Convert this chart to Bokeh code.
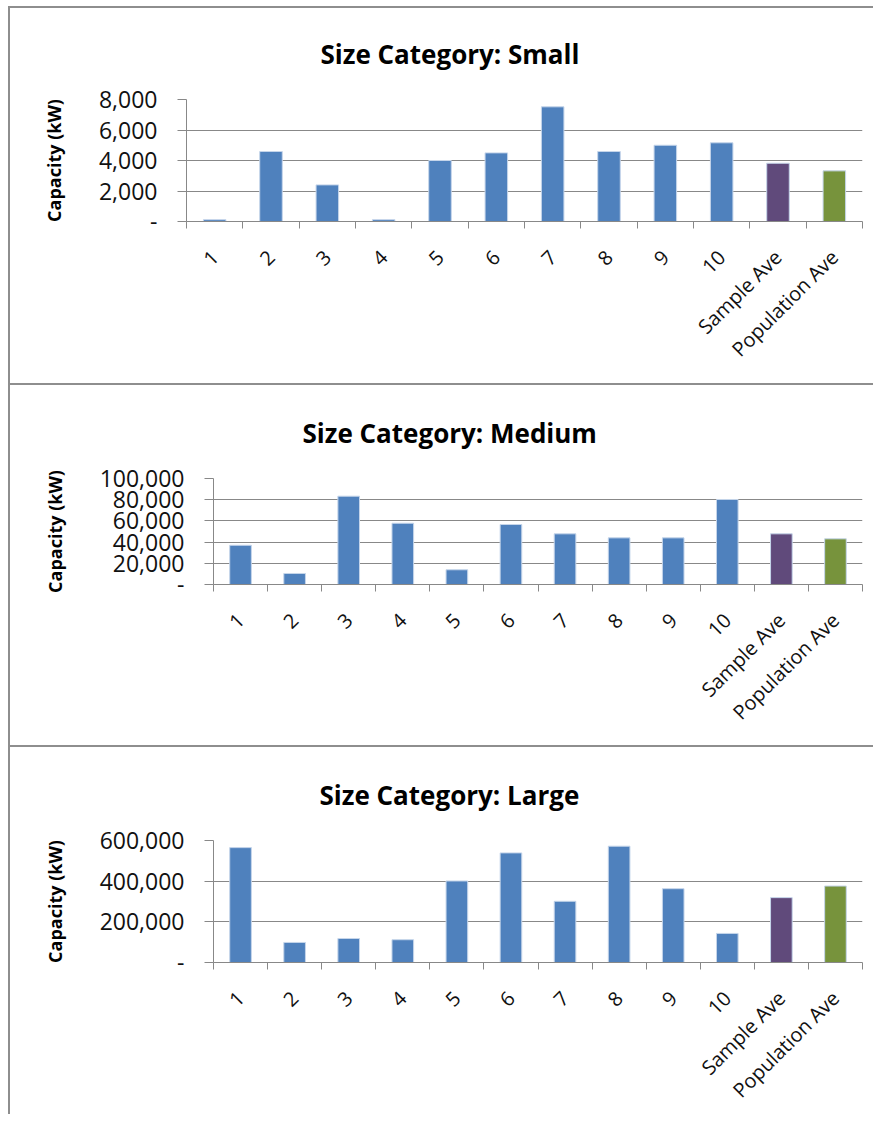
import math
from bokeh.plotting import figure
from bokeh.models import FixedTicker, NumeralTickFormatter, Range1d, ColumnDataSource
from bokeh.layouts import column, row
from bokeh.embed import file_html
from bokeh.resources import INLINE

categories = ["1", "2", "3", "4", "5", "6", "7", "8", "9", "10", "Sample Ave", "Population Ave"]
small_values = [120, 4590, 2400, 120, 4000, 4500, 7520, 4590, 5000, 5160, 3820, 3320]
medium_values = [37000, 10400, 83300, 57800, 13900, 56600, 47800, 44000, 44000, 80200, 47800, 43100]
large_values = [565000, 98600, 118000, 112000, 401000, 539000, 301000, 572000, 363000, 143000, 319000, 376000]
bar_colors = ["#4F81BD"] * 10 + ["#604A7B", "#77933C"]
titles = ["Size Category: Small", "Size Category: Medium", "Size Category: Large"]
small_ticks = [0, 2000, 4000, 6000, 8000]
medium_ticks = [0, 20000, 40000, 60000, 80000, 100000]
large_ticks = [0, 200000, 400000, 600000]
y_label = "Capacity (kW)"

FONT = "Open Sans"
GRID = "#888888"
BORDER = "#8e8e8e"
TEXT = "#111111"


def make_panel(title, values, ticks, height, b_top, b_bottom, b_left, t_offset, margin_top):
    n = len(categories)
    src = ColumnDataSource(dict(
        x=[i + 0.5 for i in range(n)],
        top=values,
        color=bar_colors,
    ))
    p = figure(width=865, height=height, output_backend="svg", toolbar_location=None,
               x_range=Range1d(0, n), y_range=Range1d(ticks[0], ticks[-1]),
               min_border_top=b_top, min_border_bottom=b_bottom,
               min_border_left=b_left, min_border_right=13,
               styles={"border-top": "2px solid " + BORDER,
                       "border-left": "2px solid " + BORDER,
                       "margin-left": "8px",
                       "margin-top": "%dpx" % margin_top})
    p.vbar(x="x", top="top", bottom=0, width=0.4, fill_color="color",
           line_color="#c5d5ea", line_width=1, source=src)
    p.outline_line_color = None
    p.background_fill_color = "white"
    p.border_fill_color = "white"

    p.title.text = title
    p.title.text_font = FONT
    p.title.text_font_style = "bold"
    p.title.text_font_size = "26px"
    p.title.text_color = "#000000"
    p.title.align = "left"
    p.title.offset = t_offset
    p.title.vertical_align = "top"
    p.title.standoff = 52

    xa = p.xaxis[0]
    xa.ticker = FixedTicker(ticks=[i + 0.5 for i in range(n)], minor_ticks=list(range(n + 1)))
    xa.major_label_overrides = {i + 0.5: c for i, c in enumerate(categories)}
    xa.major_tick_out = 0
    xa.major_tick_in = 0
    xa.minor_tick_out = 7
    xa.minor_tick_in = 0
    xa.minor_tick_line_color = GRID
    xa.axis_line_color = GRID
    xa.major_label_orientation = math.pi / 4
    xa.major_label_standoff = 25
    xa.major_label_text_font = FONT
    xa.major_label_text_font_size = "20px"
    xa.major_label_text_color = TEXT

    ya = p.yaxis[0]
    ya.ticker = FixedTicker(ticks=ticks)
    ya.formatter = NumeralTickFormatter(format="0,0")
    ya.major_label_overrides = {0: "-"}
    ya.major_tick_out = 9
    ya.major_tick_in = 0
    ya.minor_tick_out = 0
    ya.minor_tick_in = 0
    ya.major_tick_line_color = GRID
    ya.axis_line_color = GRID
    ya.major_label_standoff = 20
    ya.major_label_text_font = FONT
    ya.major_label_text_font_size = "23px"
    ya.major_label_text_color = TEXT
    ya.axis_label = y_label
    ya.axis_label_text_font = FONT
    ya.axis_label_text_font_style = "bold"
    ya.axis_label_text_font_size = "18px"
    ya.axis_label_text_color = "#000000"
    ya.axis_label_standoff = 30

    p.xgrid.visible = False
    p.ygrid.ticker = FixedTicker(ticks=ticks)
    p.ygrid.grid_line_color = GRID
    return p


p1 = make_panel(titles[0], small_values, small_ticks, 377, 91, 164, 176, 134, 6)
p2 = make_panel(titles[1], medium_values, medium_ticks, 362, 93, 163, 203, 89, 0)
p3 = make_panel(titles[2], large_values, large_ticks, 369, 93, 154, 203, 106, 0)

layout = column(row(p1), row(p2), row(p3), spacing=0)
open("out.html", "w").write(file_html(layout, INLINE))
